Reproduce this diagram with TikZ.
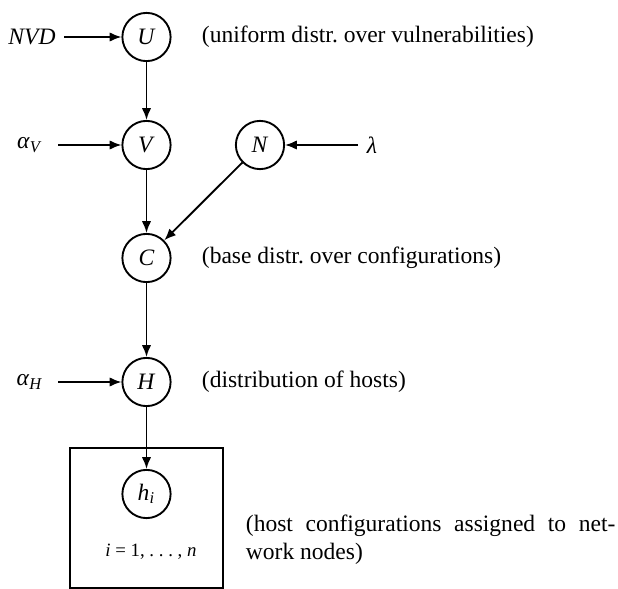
\documentclass[tikz,border=0pt]{standalone}
\usepackage{fontspec}
\setmainfont{Liberation Serif}
\usetikzlibrary{arrows.meta}
\frenchspacing

\begin{document}
\begin{tikzpicture}[x=0.425pt,y=-0.425pt,line width=0.8pt,>={Latex[length=5pt,width=4pt]}]
\useasboundingbox (0,0) rectangle (618,589);
%\tikzstyle{var}=[circle,draw,minimum size=20pt]
\begin{scope}[every node/.style={circle,draw,minimum size=20.5pt,inner sep=0pt}]
    \node (U) at (146.5,37) {\textit{U}};
    \node (V) at (146.5,145) {\textit{V}};
    \node (N) at (260,145) {\textit{N}};
    \node (C) at (146.5,258) {\textit{C}};
    \node (H) at (146.5,382) {\textit{H}};
    \node (h) at (146.5,494) {\textit{h}\textsubscript{\textit{i}}};
\end{scope}
\begin{scope}[every node/.style={inner sep=3.3pt}]
    \node (nvd) at (32,37) {\textit{NVD}};
    \node[minimum width=23pt] (aV) at (30,145) {\textit{α}\textsubscript{\textit{V}}};
    \node (lam) at (372,145) {\textit{λ}};
    \node[minimum width=23pt] (aH) at (30,382) {\textit{α}\textsubscript{\textit{H}}};
\end{scope}
\begin{scope}[every node/.style={inner sep=0pt,anchor=west}]
    \node (lU) at (201,37) {(uniform distr. over vulnerabilities)};
    \node (lC) at (201,258) {(base distr. over configurations)};
    \node (lH) at (201,382) {(distribution of hosts)};
    \node[text width=157pt,align=justify] (lh) at (245,540)
        {(host configurations assigned to net-\linebreak work nodes)};
\end{scope}
    \node[font=\footnotesize] (idx) at (151,552) {\textit{i} = 1, .\hspace{2pt}.\hspace{2pt}. , \textit{n}};
    \draw (70,448) rectangle (223,588);

    \path [->] (nvd) edge (U);
    \path [->] (U) edge (V);
    \path [->] (aV) edge (V);
    \path [->] (lam) edge (N);
    \path [->] (V) edge (C);
    \path [->] (N) edge (C);
    \path [->] (C) edge (H);
    \path [->] (aH) edge (H);
    \path [->] (H) edge (h);
\end{tikzpicture}
\end{document}
